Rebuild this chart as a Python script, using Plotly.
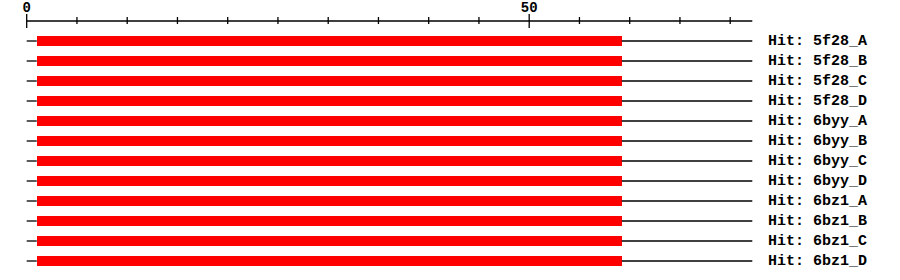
import plotly.graph_objects as go

# ---- data ----
hit_labels = ["Hit: 5f28_A", "Hit: 5f28_B", "Hit: 5f28_C", "Hit: 5f28_D",
              "Hit: 6byy_A", "Hit: 6byy_B", "Hit: 6byy_C", "Hit: 6byy_D",
              "Hit: 6bz1_A", "Hit: 6bz1_B", "Hit: 6bz1_C", "Hit: 6bz1_D"]
hit_starts = [1, 1, 1, 1, 1, 1, 1, 1, 1, 1, 1, 1]
hit_ends = [59.2, 59.2, 59.2, 59.2, 59.2, 59.2, 59.2, 59.2, 59.2, 59.2, 59.2, 59.2]
query_length = 72.2
major_ticks = [0, 50]
minor_ticks = [5, 10, 15, 20, 25, 30, 35, 40, 45, 55, 60, 65, 70]
tick_labels = ["0", "50"]

FONT = "Liberation Mono"
AXIS_Y = -1.0

fig = go.Figure()

rows = list(range(len(hit_labels)))

# background lines for each hit (outside the hit region)
lx, ly = [], []
for r, s, e in zip(rows, hit_starts, hit_ends):
    lx += [0, s, None, e, query_length, None]
    ly += [r, r, None, r, r, None]
fig.add_trace(go.Scatter(x=lx, y=ly, mode="lines",
                         line=dict(color="black", width=1.3), hoverinfo="skip"))

# red hit bars
fig.add_trace(go.Bar(y=rows, x=[e - s for s, e in zip(hit_starts, hit_ends)],
                     base=hit_starts, orientation="h", width=0.46,
                     marker=dict(color="#ff0000", line=dict(width=0)),
                     hoverinfo="skip"))

# top axis line
fig.add_trace(go.Scatter(x=[0, query_length], y=[AXIS_Y, AXIS_Y], mode="lines",
                         line=dict(color="black", width=1.5), hoverinfo="skip"))

# ticks
tx, ty = [], []
for t in major_ticks:
    tx += [t, t, None]
    ty += [AXIS_Y - 0.35, AXIS_Y + 0.35, None]
for t in minor_ticks:
    tx += [t, t, None]
    ty += [AXIS_Y - 0.2, AXIS_Y + 0.15, None]
fig.add_trace(go.Scatter(x=tx, y=ty, mode="lines",
                         line=dict(color="black", width=1.3), hoverinfo="skip"))

# tick labels
fig.add_trace(go.Scatter(x=major_ticks, y=[AXIS_Y - 0.62] * len(major_ticks),
                         mode="text", text=tick_labels, textposition="middle center",
                         textfont=dict(family=FONT, size=14, color="black", weight="bold"),
                         hoverinfo="skip"))

# hit labels
fig.add_trace(go.Scatter(x=[73.75] * len(rows), y=rows, mode="text",
                         text=hit_labels, textposition="middle right",
                         textfont=dict(family=FONT, size=15, color="black", weight="bold"),
                         hoverinfo="skip"))

px_per_unit = 10.05
x0_px = 26.7
fig.update_layout(
    width=900, height=280,
    margin=dict(l=0, r=0, t=0, b=0),
    paper_bgcolor="white", plot_bgcolor="white",
    showlegend=False,
    xaxis=dict(range=[-x0_px / px_per_unit, (900 - x0_px) / px_per_unit],
               visible=False, fixedrange=True),
    yaxis=dict(range=[(280 - 41) / 20.0, -41 / 20.0], visible=False, fixedrange=True),
    bargap=0,
)

fig.write_html("out.html")
